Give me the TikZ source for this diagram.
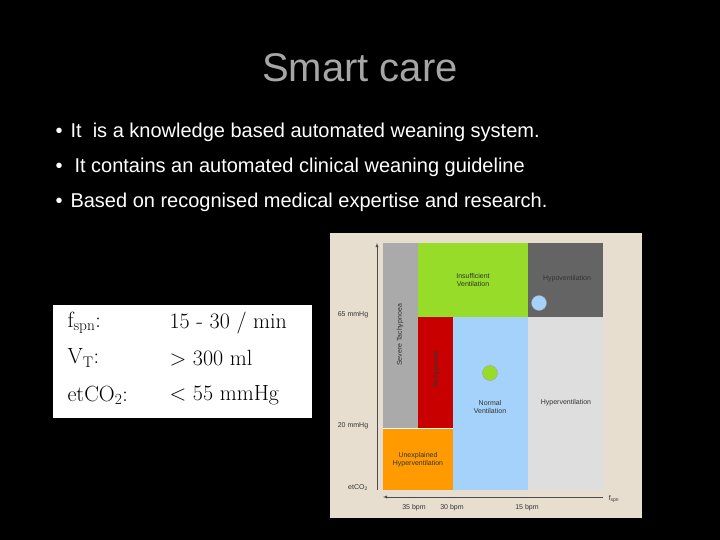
\documentclass[tikz,border=0pt]{standalone}
\usepackage{fontspec}
\setmainfont{Liberation Sans}
\newfontfamily\serifx{Latin Modern Roman}
\begin{document}
\begin{tikzpicture}[x=1pt,y=-1pt,
  lbl/.style={font=\fontsize{7}{8}\selectfont,text=black!80,align=center},
  bul/.style={anchor=west,text=white,font=\fontsize{20}{24}\selectfont},
  tab/.style={anchor=west,font=\serifx\fontsize{22}{24}\selectfont}]
\definecolor{bg}{RGB}{232,222,208}
\definecolor{lgreen}{RGB}{150,220,40}
\definecolor{dgray}{RGB}{100,100,100}
\definecolor{mgray}{RGB}{170,170,170}
\definecolor{red2}{RGB}{200,0,0}
\definecolor{lblue}{RGB}{165,210,250}
\definecolor{lgray}{RGB}{222,222,222}
\definecolor{orng}{RGB}{255,155,0}
\fill[black] (0,0) rectangle (720,540);
\useasboundingbox (0,0) rectangle (720,540);
\node[text=black!35!white,font=\fontsize{40}{44}\selectfont] (title) at (360,68) {Smart care};
\node[bul] (b1) at (52,132) {•\hspace{8pt}It\ \ is a knowledge based automated weaning system.};
\node[bul] (b2) at (52,167) {•\hspace{12pt}It contains an automated clinical weaning guideline};
\node[bul] (b3) at (52,202) {•\hspace{8pt}Based on recognised medical expertise and research.};
% table
\fill[white] (53,305) rectangle (312,418);
\node[tab] (t1) at (64,323) {f\textsubscript{spn}:};
\node[tab] (t2) at (64,358) {V\textsubscript{T}:};
\node[tab] (t3) at (64,395) {etCO\textsubscript{2}:};
\node[tab] (v1) at (166,323) {15 - 30 / min};
\node[tab] (v2) at (166,358) {> 300 ml};
\node[tab] (v3) at (166,395) {< 55 mmHg};
% chart
\fill[bg] (330,233) rectangle (642,518);
\fill[mgray] (383,243) rectangle (418,428);
\fill[lgreen] (418,243) rectangle (528,317);
\fill[dgray] (528,243) rectangle (603,317);
\fill[red2] (418,317) rectangle (453,428);
\fill[lblue] (453,317) rectangle (528,490);
\fill[lgray] (528,317) rectangle (603,490);
\fill[orng] (383,428) rectangle (453,490);
\draw[white,line width=0.8pt] (383,428) -- (453,428);
\node[lbl,rotate=90] (st) at (400,335) {Severe Tachypnoea};
\node[lbl] (iv) at (473,280) {Insufficient\\Ventilation};
\node[lbl] (hv) at (567,279) {Hypoventilation};
\node[lbl,rotate=90] (tp) at (436,370) {Tachypnoea};
\node[lbl] (nv) at (490,407) {Normal\\Ventilation};
\node[lbl] (hy) at (566,403) {Hyperventilation};
\node[lbl] (uh) at (418,460) {Unexplained\\Hyperventilation};
\node[circle,fill=lblue,draw=dgray!60,minimum size=15pt,inner sep=0] (c1) at (539,303) {};
\node[circle,fill=lgreen,draw=dgray!60,minimum size=15pt,inner sep=0] (c2) at (490,373) {};
\coordinate (ay0) at (377,490); \coordinate (ay1) at (377,243);
\coordinate (ax0) at (603,497); \coordinate (ax1) at (383,497);
\draw[-latex,black!70,line width=0.4pt] (ay0) -- (ay1);
\draw[-latex,black!70,line width=0.4pt] (ax0) -- (ax1);
\node[lbl] (l65) at (353,315) {65 mmHg};
\node[lbl] (l20) at (353,426) {20 mmHg};
\node[lbl] (le) at (358,488) {etCO\textsubscript{2}};
\node[lbl] (x35) at (414,508) {35 bpm};
\node[lbl] (x30) at (452,508) {30 bpm};
\node[lbl] (x15) at (527,508) {15 bpm};
\node[lbl] (fs) at (614,499) {f\textsubscript{spn}};
\end{tikzpicture}
\end{document}
